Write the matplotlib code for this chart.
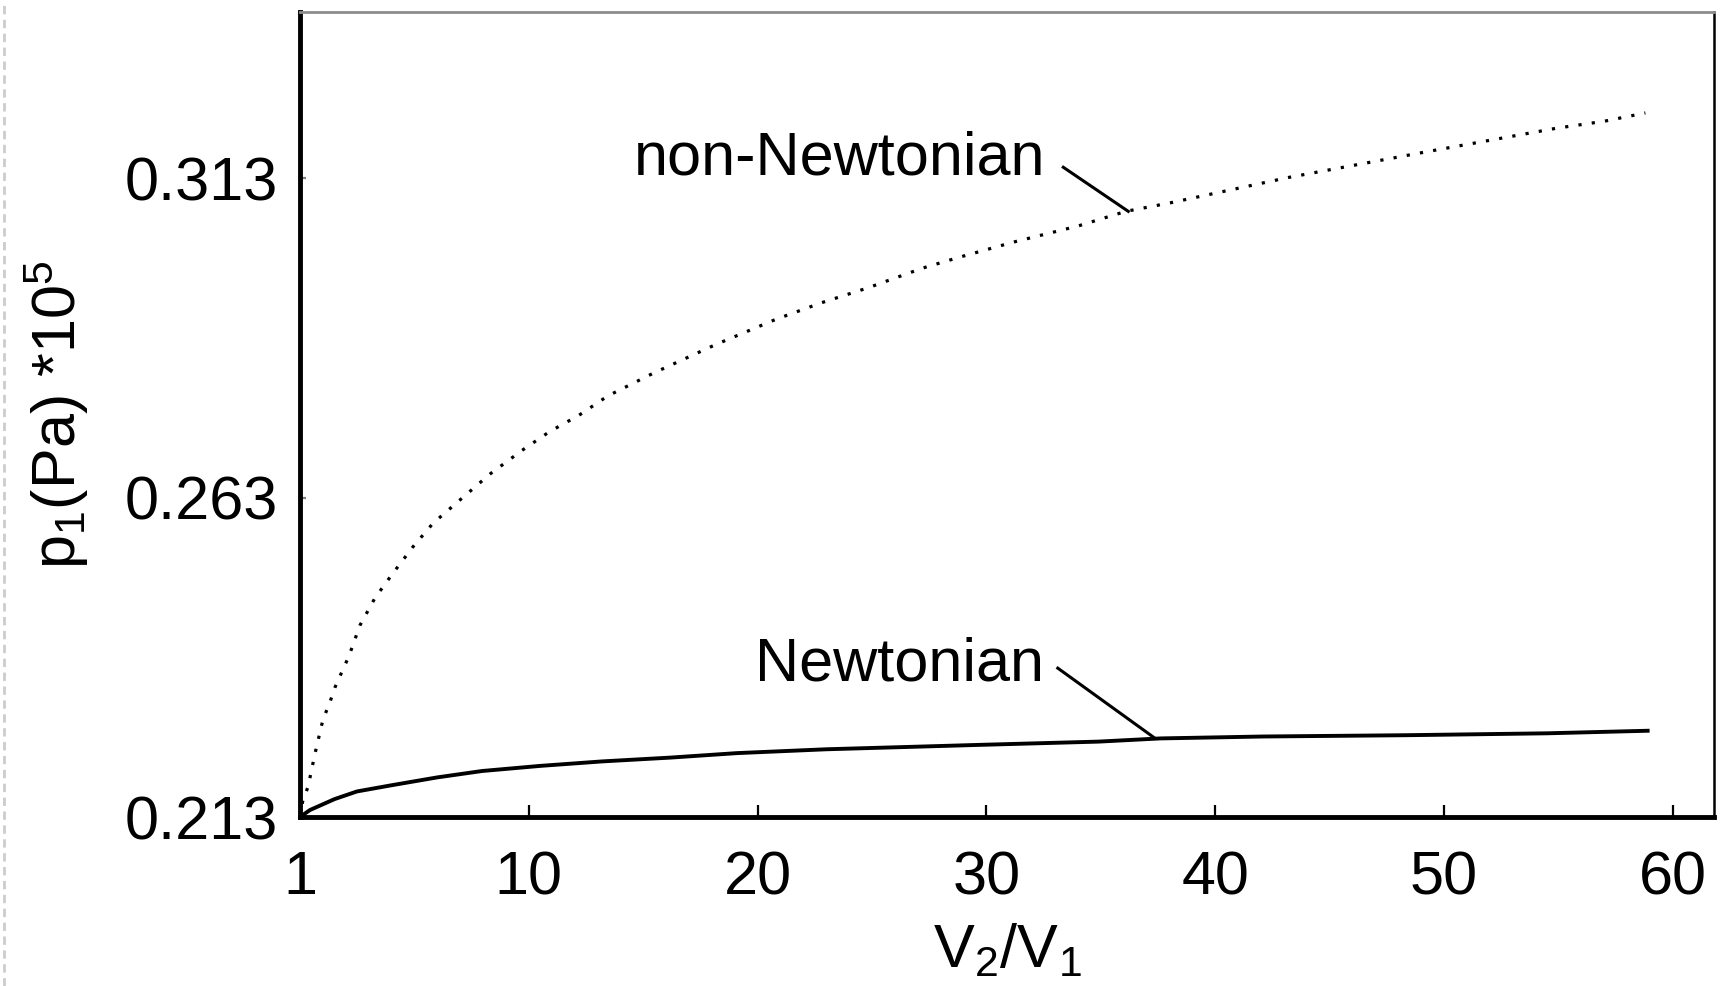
import matplotlib

matplotlib.use("Agg")
import matplotlib.pyplot as plt
from matplotlib.lines import Line2D

plt.rcParams["font.family"] = ["Liberation Sans", "DejaVu Sans"]

# x is plotted on a 0-based index; the first tick is labelled "1"
x_tick_pos = [0, 10, 20, 30, 40, 50, 60]
x_tick_labels = ["1", "10", "20", "30", "40", "50", "60"]
y_ticks = [0.213, 0.263, 0.313]
y_tick_labels = ["0.213", "0.263", "0.313"]

x_non_newtonian = [0, 0.13, 0.35, 0.66, 1.0, 1.31, 1.53, 2.14, 2.62, 3.28, 4.07, 4.94,
                   5.82, 7.08, 8.31, 9.71, 10.9, 12.2, 13.45, 15.46, 18.14, 20.8, 22.8,
                   24.8, 27.2, 28.8, 31.2, 34.0, 36.1, 38.0, 43.2, 49.2, 54.9, 57.0, 58.8]
p_non_newtonian = [0.213, 0.2157, 0.2177, 0.2230, 0.2282, 0.2310, 0.2333, 0.2382, 0.2430,
                   0.2473, 0.2512, 0.2553, 0.2590, 0.2629, 0.2667, 0.2704, 0.2733, 0.2759,
                   0.2789, 0.2825, 0.2869, 0.2909, 0.2935, 0.2958, 0.2989, 0.3006, 0.3030,
                   0.3055, 0.3078, 0.3091, 0.3131, 0.3171, 0.3208, 0.3219, 0.3232]

x_newtonian = [0, 0.44, 1.51, 2.49, 4.05, 6.0, 7.96, 10.5, 13.2, 16.2, 19.1, 23.0, 26.9,
               29.8, 34.9, 37.6, 42.1, 48.3, 54.5, 58.9]
p_newtonian = [0.213, 0.2141, 0.2158, 0.2170, 0.2180, 0.2192, 0.2202, 0.2210, 0.2217,
               0.2223, 0.2230, 0.2236, 0.2240, 0.2243, 0.2248, 0.2253, 0.2256, 0.2258,
               0.2261, 0.2265]

FS = 44

fig = plt.figure(figsize=(17.23, 9.86), dpi=100)
ax = fig.add_axes([300 / 1723, 1 - 817 / 986, 1414 / 1723, 805 / 986])

ax.plot(x_non_newtonian, p_non_newtonian, color="black", linewidth=2.3,
        linestyle=(0, (1, 3.2)), solid_capstyle="butt")
ax.plot(x_newtonian, p_newtonian, color="black", linewidth=2.8)

# curve labels with leader lines
ax.text(32.6, 0.3135, "non-Newtonian", fontsize=FS, ha="right", va="baseline")
ax.plot([33.36, 36.2], [0.3147, 0.3078], color="black", linewidth=2.2)
ax.text(32.5, 0.2344, "Newtonian", fontsize=FS, ha="right", va="baseline")
ax.plot([33.12, 37.3], [0.2363, 0.2255], color="black", linewidth=2.2)

ax.set_xlim(0, 61.8)
ax.set_ylim(0.213, 0.339)
ax.set_xticks(x_tick_pos)
ax.set_xticklabels(x_tick_labels)
ax.set_yticks(y_ticks)
ax.set_yticklabels(y_tick_labels)
ax.tick_params(axis="x", direction="in", length=9, width=1.6, labelsize=FS, pad=24)
ax.tick_params(axis="y", direction="in", length=4, width=1.6, color="0.5",
               labelsize=FS, pad=16)

ax.spines["left"].set_linewidth(3.5)
ax.spines["bottom"].set_linewidth(3.5)
ax.spines["right"].set_linewidth(1.8)
ax.spines["top"].set_linewidth(2.0)
ax.spines["top"].set_color("0.55")

ax.set_xlabel(r"V$\mathregular{_2}$/V$\mathregular{_1}$", fontsize=FS, labelpad=11)
ax.set_ylabel(r"p$\mathregular{_1}$(Pa) *10$\mathregular{^5}$", fontsize=FS, labelpad=24)

# faint scan edge at the far left
fig.add_artist(Line2D([4 / 1723, 4 / 1723], [0, 1], transform=fig.transFigure,
                      color="0.8", linewidth=2, linestyle=(0, (3, 2))))

fig.savefig("out.png", dpi=100)
